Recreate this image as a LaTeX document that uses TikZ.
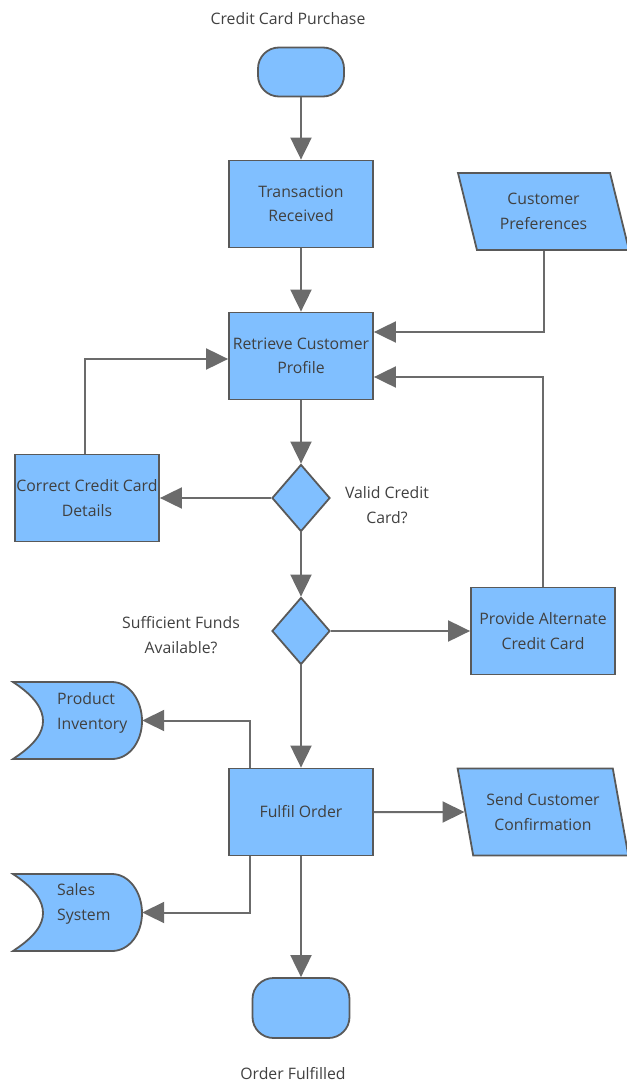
\documentclass[tikz,border=0pt]{standalone}
\usepackage{fontspec}
\setmainfont{Open Sans}
\usepackage{tikz}
\usetikzlibrary{positioning, arrows.meta, shapes.geometric, calc}

\definecolor{boxfill}{HTML}{80BFFF}
\definecolor{boxline}{HTML}{595959}
\definecolor{linkline}{HTML}{6B6B6B}
\definecolor{txt}{HTML}{404040}

\begin{document}
\begin{tikzpicture}[x=1pt, y=-1pt,
  every node/.style={text=txt, font=\fontsize{15.8}{24.5}\selectfont, align=center},
  proc/.style={rectangle, draw=boxline, fill=boxfill, line width=1.8pt, minimum width=144pt, minimum height=87pt, inner sep=0pt},
  term/.style={rectangle, rounded corners=21pt, draw=boxline, fill=boxfill, line width=1.8pt},
  decide/.style={diamond, draw=boxline, fill=boxfill, line width=1.8pt, minimum width=58pt, minimum height=67pt, inner sep=0pt},
  iobox/.style={trapezium, trapezium left angle=109, trapezium right angle=71, trapezium stretches=true, draw=boxline, fill=boxfill, line width=1.8pt, minimum width=171pt, inner sep=0pt},
  store/.style={draw=boxline, fill=boxfill, line width=1.8pt},
  link/.style={draw=linkline, line width=2pt, -{Triangle[length=22pt, width=21pt]}}]

\useasboundingbox (0,0) rectangle (626,1083);

% start and end
\node (title) at (288,19) {Credit Card Purchase};
\node[term, minimum width=86pt, minimum height=49pt] (start) at (301,72) {};
\node[term, minimum width=97pt, minimum height=60pt] (done) at (301,1008) {};
\node (donetxt) at (293,1074) {Order Fulfilled};

% main column
\node[proc] (recv) at (301,204) {Transaction\\Received};
\node[proc] (profile) at (301,356) {Retrieve Customer\\Profile};
\node[decide] (valid) at (301,498) {};
\node[decide] (funds) at (301,631) {};
\node[proc] (fulfil) at (301,812) {Fulfil Order};

\node (validtxt) at (387,505) {Valid Credit\\Card?};
\node (fundstxt) at (181,635) {Sufficient Funds\\Available?};

% side boxes
\node[proc] (fix) at (87,498) {Correct Credit Card\\Details};
\node[proc] (alt) at (543,631) {Provide Alternate\\Credit Card};
\node[iobox, minimum height=77pt] (prefs) at (543.5,211.5) {Customer\\Preferences};
\node[iobox, minimum height=87pt] (confirm) at (543,812) {Send Customer\\Confirmation};

% stored data
\draw[store] (13,682) -- (112,682) .. controls (129,682) and (142,700) .. (142,721)
  .. controls (142,742) and (129,759) .. (112,759) -- (13,759)
  .. controls (36,744) and (43,732) .. (43,721) .. controls (43,710) and (36,697) .. (13,682) -- cycle;
\node[minimum width=129pt, minimum height=77pt] (inv) at (77.5,720.5) {};
\node[align=left, anchor=west, inner sep=0pt] (invtxt) at (57,713) {Product\\Inventory};
\draw[store] (13,874) -- (112,874) .. controls (129,874) and (142,892) .. (142,913)
  .. controls (142,934) and (129,951) .. (112,951) -- (13,951)
  .. controls (36,936) and (43,924) .. (43,913) .. controls (43,902) and (36,889) .. (13,874) -- cycle;
\node[minimum width=129pt, minimum height=77pt] (sales) at (77.5,912.5) {};
\node[align=left, anchor=west, inner sep=0pt] (salestxt) at (57,904) {Sales\\System};

% connectors
\draw[link] (start) -- (recv);
\draw[link] (recv) -- (profile);
\draw[link] (prefs.south) |- ([yshift=24pt]profile.east);
\draw[link] (alt.north) |- ([yshift=-21pt]profile.east);
\draw[link] ([xshift=-2pt]fix.north) |- ([yshift=-3pt]profile.west);
\draw[link] (profile) -- (valid);
\draw[link] (valid) -- (fix);
\draw[link] (valid) -- (funds);
\draw[link] (funds) -- (alt);
\draw[link] (funds) -- (fulfil);
\draw[link] ([xshift=-51pt]fulfil.north) |- (inv.east);
\draw[link] ([xshift=-51pt]fulfil.south) |- (sales.east);
\draw[link] (fulfil) -- (confirm);
\draw[link] (fulfil) -- (done);
\end{tikzpicture}
\end{document}
